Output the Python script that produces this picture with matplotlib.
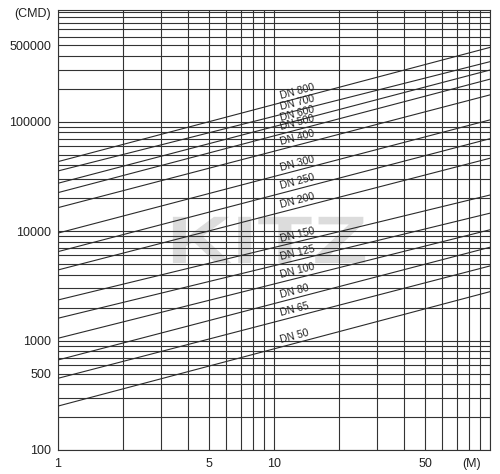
import numpy as np
import matplotlib
matplotlib.use("Agg")
import matplotlib.pyplot as plt
from matplotlib.ticker import LogLocator, FixedLocator, NullFormatter
from matplotlib.textpath import TextPath
from matplotlib.patches import PathPatch
from matplotlib.font_manager import FontProperties
from matplotlib.transforms import Bbox, BboxTransformFrom, BboxTransformTo

plt.rcParams["font.family"] = ["Liberation Sans", "DejaVu Sans"]

# head range (M) and flow (CMD) read at both ends of each line
head_ends = [1, 100]
sizes = ["DN 800", "DN 700", "DN 600", "DN 500", "DN 400", "DN 300", "DN 250",
         "DN 200", "DN 150", "DN 125", "DN 100", "DN 80", "DN 65", "DN 50"]
q_at_1m = [43200, 35500, 27400, 22500, 16400, 9600, 6500,
           4420, 2350, 1600, 1050, 665, 452, 252]
q_at_100m = [478000, 354000, 297000, 245000, 176000, 104000, 70000,
             46400, 21400, 14600, 10300, 7130, 4810, 2800]

x_ticks = [1, 5, 10, 50, 82]
x_labels = ["1", "5", "10", "50", "(M)"]
y_ticks = [100, 500, 1000, 10000, 100000, 500000, 1000000]
y_labels = ["100", "500", "1000", "10000", "100000", "500000", "(CMD)"]

label_x = 10.8

fig = plt.figure(figsize=(5, 4.74), dpi=100)
ax = fig.add_axes([58 / 500, 1 - 450 / 474, 432 / 500, 440 / 474])
ax.set_xscale("log")
ax.set_yscale("log")
ax.set_xlim(1, 100)
ax.set_ylim(100, 1.05e6)

line_col = "#2b2b2b"
for name, q1, q2 in zip(sizes, q_at_1m, q_at_100m):
    ax.plot(head_ends, [q1, q2], color=line_col, lw=0.8, zorder=3)
    # label sits on the line, rotated along it
    k = np.log(q2 / q1) / np.log(head_ends[1] / head_ends[0])
    ly = q1 * label_x ** k
    p1 = ax.transData.transform((1, q1))
    p2 = ax.transData.transform((100, q2))
    ang = np.degrees(np.arctan2(p2[1] - p1[1], p2[0] - p1[0]))
    ax.annotate(name, (label_x, ly), xytext=(0, 1.5), textcoords="offset points",
                rotation=ang, rotation_mode="anchor", ha="left", va="bottom",
                fontsize=7.5, color="#222222", zorder=4)

# grid on every log subdivision
ax.xaxis.set_minor_locator(LogLocator(base=10, subs=np.arange(1, 10)))
ax.yaxis.set_minor_locator(LogLocator(base=10, subs=np.arange(1, 10)))
ax.xaxis.set_minor_formatter(NullFormatter())
ax.yaxis.set_minor_formatter(NullFormatter())
ax.xaxis.remove_overlapping_locs = False
ax.yaxis.remove_overlapping_locs = False
ax.xaxis.set_major_locator(FixedLocator(x_ticks))
ax.yaxis.set_major_locator(FixedLocator(y_ticks))
ax.set_xticklabels(x_labels)
ax.set_yticklabels(y_labels)
ax.grid(which="minor", color="#333333", lw=0.8)
ax.grid(which="major", visible=False)
ax.tick_params(which="both", length=0, labelsize=9, colors="#222222")
ax.tick_params(axis="y", pad=5)
ax.tick_params(axis="x", pad=6)
for s in ax.spines.values():
    s.set_color("#333333")
    s.set_linewidth(0.8)

# faint watermark behind the grid
tp = TextPath((0, 0), "KITZ", size=1,
              prop=FontProperties(family="Liberation Sans", weight="bold"))
box = Bbox.from_extents(0.266, 0.425, 0.711, 0.53)
tr = BboxTransformFrom(tp.get_extents()) + BboxTransformTo(box) + ax.transAxes
ax.add_patch(PathPatch(tp, transform=tr, fc="#dcdcdc", ec="none", zorder=0))
ax.set_xlim(1, 100)
ax.set_ylim(100, 1.05e6)

fig.savefig("out.png", dpi=100)
